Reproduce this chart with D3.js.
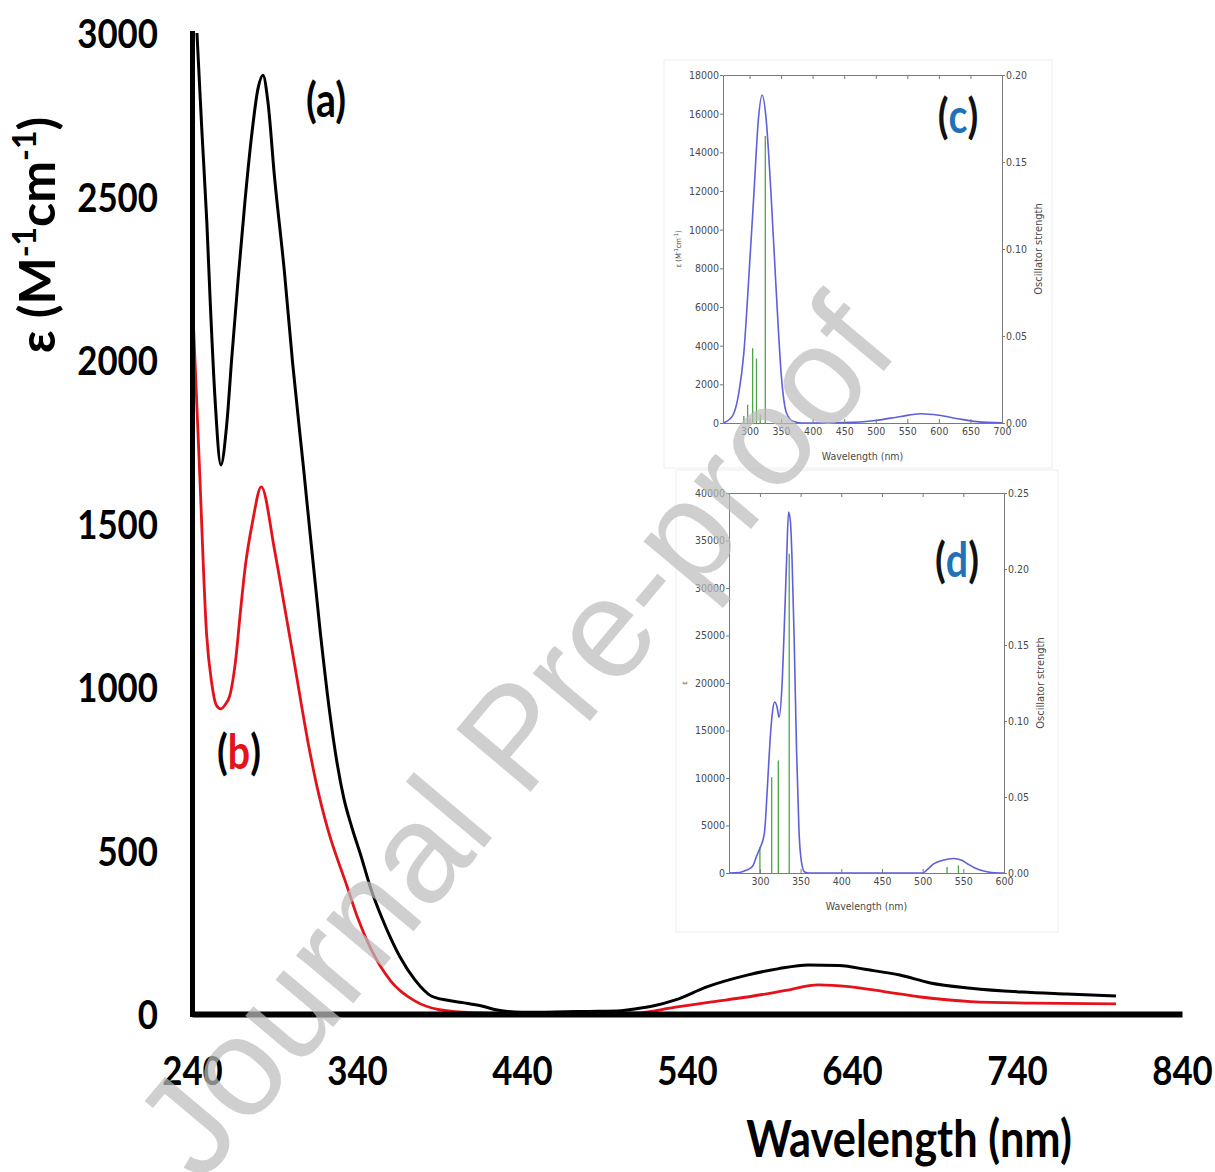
<!DOCTYPE html>
<html>
<head>
<meta charset="utf-8">
<script src="https://cdn.jsdelivr.net/npm/d3@7"></script>
<style>
  body { margin: 0; background: #fff; }
  svg { display: block; }
</style>
</head>
<body>
<svg id="chart" width="1215" height="1172"></svg>
<script>
// ---- main spectra ----
// (a) black
const wlA = [243, 246, 249, 251, 254, 257.5, 261, 264, 268, 272, 276, 280, 283, 286, 290, 296, 301, 307.5, 317.8, 323, 328, 332, 336.8, 342, 348.6, 355,
  360.4, 366, 375, 385, 395, 405, 415, 425, 440, 460, 480, 500, 508, 520, 533, 552, 576.5, 595, 613.5, 632, 650, 669, 687.5, 712, 743, 770, 800];
const epsA = [3000, 2700, 2420, 2183, 1878, 1679, 1800, 2000, 2250, 2480, 2680, 2830, 2871, 2790, 2560, 2270, 1990, 1674, 1165, 940, 765, 660, 572, 490, 380, 295,
  232, 175, 105, 55, 42, 34, 25, 12, 5, 6, 8, 10, 15, 25, 43, 83, 119, 138, 150, 148, 135, 119, 95, 79, 67, 61, 55];
// (b) red
const wlB = [240, 244.5, 248.8, 252, 254.7, 257.5, 260, 263, 266.4, 269.4, 272.3, 276.7, 282, 290, 295.9, 301.8, 310.5, 316, 322.3, 334, 340,
  348.8, 360.6, 375, 390, 410, 440, 480, 508, 533, 555, 576.5, 600, 619.5, 638, 660, 681.5, 712, 750, 800];
const epsB = [2214, 1674, 1165, 1010, 945, 933, 945, 975, 1080, 1233, 1369, 1505, 1612, 1420, 1251, 1080, 826, 690, 565, 390, 300,
  195, 100, 40, 13, 4, 2, 3, 3, 21, 37, 52, 72, 89, 84, 68, 52, 38, 33, 31];

const xTicks = [240, 340, 440, 540, 640, 740, 840];
const yTicks = [0, 500, 1000, 1500, 2000, 2500, 3000];

// ---- inset (c) ----
const wlC = [258, 272.6, 283, 291, 299, 307, 314, 320, 326, 334, 342.5, 350.5, 358.6, 369, 383, 400, 450, 500, 540, 571, 600, 630, 660, 700];
const epsC = [0, 344, 1550, 3617, 7580, 11885, 15675, 16967, 15850, 11885, 6720, 2411, 517, 86, 0, 0, 20, 130, 340, 480, 400, 220, 70, 5];
const barWlC = [291, 297, 305, 311, 317, 325];
const barFC = [0.004, 0.0105, 0.043, 0.037, 0.005, 0.165];
const xTicksC = [300, 350, 400, 450, 500, 550, 600, 650, 700];
const yTicksC = [0, 2000, 4000, 6000, 8000, 10000, 12000, 14000, 16000, 18000];
const fTicksC = [0, 0.05, 0.10, 0.15, 0.20];

// ---- inset (d) ----
const wlD = [262, 275, 283, 291, 296, 300, 305.5, 309.5, 312.5, 315.5, 318, 321, 323.5, 327, 330, 333, 335.2, 337.5, 339.5, 342, 345, 348, 351, 355, 360,
  430, 500, 505, 514, 525, 538, 548, 555, 565, 575, 585, 600];
const epsD = [0, 50, 280, 700, 1800, 2600, 4200, 9500, 14000, 17000, 18000, 17500, 16400, 19500, 26000, 33500, 38000, 37000, 33000, 25000, 13000, 4500, 1200, 100, 0,
  0, 0, 300, 980, 1350, 1520, 1350, 980, 500, 210, 50, 0];
const barWlD = [300, 314.5, 322.6, 336, 530, 544];
const barFD = [0.017, 0.063, 0.074, 0.21, 0.004, 0.005];
const xTicksD = [300, 350, 400, 450, 500, 550, 600];
const yTicksD = [0, 5000, 10000, 15000, 20000, 25000, 30000, 35000, 40000];
const fTicksD = [0, 0.05, 0.10, 0.15, 0.20, 0.25];

const svg = d3.select('#chart');
const boldFont = 'Lato, "Open Sans", sans-serif';
const smallFont = '"DejaVu Sans Condensed", "DejaVu Sans", sans-serif';

const x = d3.scaleLinear().domain([240, 840]).range([192, 1182]);
const y = d3.scaleLinear().domain([0, 3000]).range([1014, 33]);

function drawInset(c) {
  const g = svg.append('g');
  g.append('rect')
    .attr('x', c.box[0]).attr('y', c.box[1]).attr('width', c.box[2]).attr('height', c.box[3])
    .attr('fill', '#fff').attr('stroke', '#eeeeee');

  const xs = d3.scaleLinear().domain(c.xDomain).range([c.left, c.right]);
  const yl = d3.scaleLinear().domain(c.yDomain).range([c.bottom, c.top]);
  const yr = d3.scaleLinear().domain(c.fDomain).range([c.bottom, c.top]);

  // oscillator strength sticks
  g.selectAll('line.bar')
    .data(d3.zip(c.barWl, c.barF))
    .join('line')
    .attr('class', 'bar')
    .attr('x1', d => xs(d[0])).attr('x2', d => xs(d[0]))
    .attr('y1', yr(0)).attr('y2', d => yr(d[1]))
    .attr('stroke', '#4ea447').attr('stroke-width', 1.3);

  g.append('path')
    .datum(d3.zip(c.wl, c.eps))
    .attr('fill', 'none')
    .attr('stroke', '#5f5fd8')
    .attr('stroke-width', 1.6)
    .attr('d', d3.line().x(d => xs(d[0])).y(d => yl(d[1])).curve(d3.curveMonotoneX));

  const styleAxis = a => {
    a.select('.domain').attr('stroke', '#7a7a7a');
    a.selectAll('.tick line').attr('stroke', '#7a7a7a');
    a.selectAll('.tick text').attr('fill', '#4a4a4a').attr('font-size', 10.5).attr('font-family', smallFont);
  };

  g.append('g').attr('transform', `translate(0,${c.bottom})`)
    .call(d3.axisBottom(xs).tickValues(c.xTicks).tickSizeInner(-4).tickSizeOuter(0).tickPadding(5))
    .call(styleAxis);
  g.append('g').attr('transform', `translate(0,${c.top})`)
    .call(d3.axisTop(xs).tickValues(c.xTicks).tickFormat('').tickSizeInner(-4).tickSizeOuter(0))
    .call(styleAxis);
  g.append('g').attr('transform', `translate(${c.left},0)`)
    .call(d3.axisLeft(yl).tickValues(c.yTicks).tickFormat(d3.format('d')).tickSizeInner(3).tickSizeOuter(0).tickPadding(1))
    .call(styleAxis);
  g.append('g').attr('transform', `translate(${c.right},0)`)
    .call(d3.axisRight(yr).tickValues(c.fTicks).tickFormat(d3.format('.2f')).tickSizeInner(3).tickSizeOuter(0).tickPadding(1))
    .call(styleAxis);

  g.append('text')
    .attr('x', (c.left + c.right) / 2).attr('y', c.bottom + 37)
    .attr('text-anchor', 'middle')
    .attr('font-family', smallFont).attr('font-size', 10.5).attr('fill', '#4a4a4a')
    .text('Wavelength (nm)');

  const mid = (c.top + c.bottom) / 2;
  g.append('text')
    .attr('transform', `translate(${c.right + 40},${mid}) rotate(-90)`)
    .attr('text-anchor', 'middle')
    .attr('font-family', smallFont).attr('font-size', 11).attr('fill', '#4a4a4a')
    .text('Oscillator strength');

  const ylLab = g.append('text')
    .attr('transform', `translate(${c.left - 42},${mid}) rotate(-90)`)
    .attr('text-anchor', 'middle')
    .attr('font-family', smallFont).attr('font-size', 7.5).attr('fill', '#4a4a4a');
  if (c.fullYLabel) {
    ylLab.append('tspan').text('ε (M');
    ylLab.append('tspan').attr('baseline-shift', 'super').attr('font-size', 5.5).text('-1');
    ylLab.append('tspan').text('cm');
    ylLab.append('tspan').attr('baseline-shift', 'super').attr('font-size', 5.5).text('-1');
    ylLab.append('tspan').text(')');
  } else {
    ylLab.text('ε');
  }

  // panel letter: black parens, blue letter
  const t = g.append('text')
    .attr('transform', `translate(${c.letterPos[0]},${c.letterPos[1]}) scale(0.82,1)`)
    .attr('text-anchor', 'middle')
    .attr('font-family', boldFont).attr('font-weight', 700).attr('font-size', 48).attr('fill', '#111');
  t.append('tspan').text('(');
  t.append('tspan').attr('fill', '#1f72b8').text(c.letter);
  t.append('tspan').text(')');
}

drawInset({
  box: [664, 60, 388, 408],
  left: 723, right: 1002, top: 75, bottom: 423,
  xDomain: [258, 700], yDomain: [0, 18000], fDomain: [0, 0.2],
  wl: wlC, eps: epsC, barWl: barWlC, barF: barFC,
  xTicks: xTicksC, yTicks: yTicksC, fTicks: fTicksC,
  fullYLabel: true, letter: 'c', letterPos: [958, 133]
});
drawInset({
  box: [676, 470, 382, 462],
  left: 729, right: 1004, top: 493, bottom: 873,
  xDomain: [262, 600], yDomain: [0, 40000], fDomain: [0, 0.25],
  wl: wlD, eps: epsD, barWl: barWlD, barF: barFD,
  xTicks: xTicksD, yTicks: yTicksD, fTicks: fTicksD,
  fullYLabel: false, letter: 'd', letterPos: [957, 577]
});

// ---- main curves ----
const mainLine = d3.line().x(d => x(d[0])).y(d => y(d[1])).curve(d3.curveMonotoneX);
svg.append('path').datum(d3.zip(wlB, epsB))
  .attr('fill', 'none').attr('stroke', '#e3121b').attr('stroke-width', 2.8).attr('d', mainLine);
svg.append('path').datum(d3.zip(wlA, epsA))
  .attr('fill', 'none').attr('stroke', '#000').attr('stroke-width', 3).attr('d', mainLine);

// ---- main axes ----
const gx = svg.append('g').attr('transform', `translate(0,${y(0)})`)
  .call(d3.axisBottom(x).tickValues(xTicks).tickFormat(d3.format('d')).tickSize(0).tickSizeOuter(0));
gx.select('.domain').attr('stroke', '#000').attr('stroke-width', 6);
gx.selectAll('.tick text')
  .attr('y', 71).attr('dy', 0)
  .attr('transform', 'scale(0.85,1)')
  .attr('font-family', boldFont).attr('font-weight', 700).attr('font-size', 41).attr('fill', '#000');

const gy = svg.append('g').attr('transform', `translate(${x(240)},0)`)
  .call(d3.axisLeft(y).tickValues(yTicks).tickFormat(d3.format('d')).tickSize(0).tickSizeOuter(0));
gy.select('.domain').attr('stroke', '#000').attr('stroke-width', 5).attr('stroke-linecap', 'square');
gy.selectAll('.tick text')
  .attr('x', -34 / 0.85).attr('dy', '0.36em')
  .attr('transform', 'scale(0.85,1)')
  .attr('font-family', boldFont).attr('font-weight', 700).attr('font-size', 41).attr('fill', '#000');

svg.append('text')
  .attr('transform', 'translate(909,1157) scale(0.85,1)')
  .attr('text-anchor', 'middle')
  .attr('font-family', boldFont).attr('font-weight', 700).attr('font-size', 51)
  .text('Wavelength (nm)');

const yt = svg.append('text')
  .attr('transform', 'translate(55,235) rotate(-90)')
  .attr('text-anchor', 'middle')
  .attr('font-family', boldFont).attr('font-weight', 700).attr('font-size', 50);
yt.append('tspan').text('ε (M');
yt.append('tspan').attr('baseline-shift', 'super').attr('font-size', 32).text('-1');
yt.append('tspan').text('cm');
yt.append('tspan').attr('baseline-shift', 'super').attr('font-size', 32).text('-1');
yt.append('tspan').text(')');

// panel labels (a), (b)
svg.append('text')
  .attr('transform', 'translate(326,117) scale(0.82,1)')
  .attr('text-anchor', 'middle')
  .attr('font-family', boldFont).attr('font-weight', 700).attr('font-size', 48)
  .text('(a)');
const lb = svg.append('text')
  .attr('transform', 'translate(239,769) scale(0.82,1)')
  .attr('text-anchor', 'middle')
  .attr('font-family', boldFont).attr('font-weight', 700).attr('font-size', 48);
lb.append('tspan').text('(');
lb.append('tspan').attr('fill', '#e3121b').text('b');
lb.append('tspan').text(')');

// watermark
svg.append('text')
  .attr('transform', 'translate(512,735) rotate(-50)')
  .attr('text-anchor', 'middle')
  .attr('dy', '0.36em')
  .attr('font-family', '"Liberation Sans", Arial, sans-serif')
  .attr('font-size', 141)
  .attr('fill', '#bdbdbd').attr('fill-opacity', 0.72)
  .text('Journal Pre-proof');
</script>
</body>
</html>
